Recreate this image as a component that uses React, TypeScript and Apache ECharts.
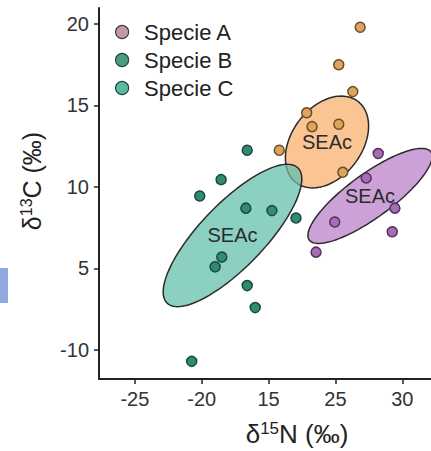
import React, { useEffect, useRef } from "react";
import * as echarts from "echarts";

// Tick labels (positions 0..4 on each axis)
const xTickLabels = ["-25", "-20", "15", "25", "30"];
const yTickLabels = ["-10", "5", "10", "15", "20"];
const tickPositions = [0, 1, 2, 3, 4];

// Points, in axis-position units (tick index)
const speciesA = [
  [3.64, 2.41], [3.46, 2.11], [3.89, 1.74], [2.99, 1.57], [3.85, 1.45], [2.71, 1.2],
];
const speciesB = [
  [1.68, 2.45], [1.29, 2.09], [0.97, 1.89], [1.66, 1.74], [2.05, 1.71], [2.41, 1.62],
  [1.3, 1.14], [1.2, 1.02], [1.68, 0.79], [1.8, 0.52], [0.85, -0.14],
];
const speciesC = [
  [3.37, 3.96], [3.05, 3.5], [3.26, 3.17], [2.57, 2.91], [2.65, 2.74], [3.05, 2.77],
  [2.16, 2.45], [3.11, 2.18],
];

// Standard ellipses: centre and two conjugate semi-axis vectors [cx, cy, ux, uy, vx, vy]
const ellipseA = [3.518, 1.89, 0.909, 0.541, 0.193, -0.218];
const ellipseB = [1.46, 1.405, 0.978, 0.83, 0.344, -0.273];
const ellipseC = [2.874, 2.552, 0.46, 0.5, 0.419, -0.259];

const seriesNames = ["Specie A", "Specie B", "Specie C"];

const FONT = "'Liberation Sans', Arial, Helvetica, sans-serif";

function ellipseSeries(name: string, e: number[], fill: string, z: number) {
  return {
    name,
    type: "custom",
    z,
    silent: true,
    data: [e],
    renderItem: (_params: any, api: any) => {
      const cx = api.value(0), cy = api.value(1);
      const ux = api.value(2), uy = api.value(3);
      const vx = api.value(4), vy = api.value(5);
      const pts: number[][] = [];
      const n = 120;
      for (let i = 0; i < n; i++) {
        const t = (2 * Math.PI * i) / n;
        pts.push(api.coord([cx + ux * Math.cos(t) + vx * Math.sin(t), cy + uy * Math.cos(t) + vy * Math.sin(t)]));
      }
      const c = api.coord([cx, cy]);
      return {
        type: "group",
        children: [
          { type: "polygon", shape: { points: pts }, style: { fill, stroke: "#2b2b2b", lineWidth: 1.5 } },
          {
            type: "text",
            x: c[0],
            y: c[1],
            style: {
              text: "SEAc",
              fill: "#2b2b2b",
              fontSize: 20,
              fontFamily: FONT,
              align: "center",
              verticalAlign: "middle",
            },
          },
        ],
      };
    },
  };
}

function scatterSeries(name: string, data: number[][], color: string, border: string) {
  return {
    name,
    type: "scatter",
    z: 10,
    symbol: "circle",
    symbolSize: 10,
    data,
    itemStyle: { color, borderColor: border, borderWidth: 1.5, opacity: 1 },
  };
}

export default function App() {
  const ref = useRef<HTMLDivElement>(null);
  useEffect(() => {
    if (!ref.current) return;
    const chart = echarts.init(ref.current, null, { renderer: "svg" });
    const axisLineStyle = { color: "#222", width: 2 };
    chart.setOption({
      animation: false,
      backgroundColor: "#fff",
      textStyle: { fontFamily: FONT },
      grid: { left: 99, right: 0, top: 8, bottom: 72, containLabel: false, outerBoundsMode: "none" },
      legend: {
        orient: "vertical",
        left: 110,
        top: 16,
        itemWidth: 34,
        itemHeight: 13,
        itemGap: 6,
        icon: "circle",
        selectedMode: false,
        textStyle: { fontSize: 22, color: "#222", fontFamily: FONT },
        data: [
          { name: seriesNames[0], itemStyle: { color: "#c39aab", borderColor: "#4a3a40", borderWidth: 1.2 } },
          { name: seriesNames[1], itemStyle: { color: "#4a9d83", borderColor: "#1f4a3e", borderWidth: 1.2 } },
          { name: seriesNames[2], itemStyle: { color: "#5cbaa2", borderColor: "#1f4a3e", borderWidth: 1.2 } },
        ],
      },
      xAxis: {
        type: "value",
        min: -0.537,
        max: 4.43,
        axisLine: { show: true, onZero: false, lineStyle: axisLineStyle },
        axisTick: { show: true, length: 5, customValues: tickPositions, lineStyle: { color: "#222", width: 1.5 } },
        axisLabel: {
          customValues: tickPositions,
          formatter: (v: number) => xTickLabels[Math.round(v)] ?? "",
          margin: 10,
          fontSize: 20,
          color: "#333",
          fontFamily: FONT,
        },
        splitLine: { show: false },
      },
      yAxis: {
        type: "value",
        min: -0.356,
        max: 4.196,
        axisLine: { show: true, onZero: false, lineStyle: axisLineStyle },
        axisTick: { show: true, length: 5, customValues: tickPositions, lineStyle: { color: "#222", width: 1.5 } },
        axisLabel: {
          customValues: tickPositions,
          formatter: (v: number) => yTickLabels[Math.round(v)] ?? "",
          margin: 10,
          fontSize: 20,
          color: "#333",
          fontFamily: FONT,
        },
        splitLine: { show: false },
      },
      graphic: [
        {
          type: "text",
          x: 297,
          y: 434,
          style: {
            text: "{d|δ}{s|15}{d|N (‰)}",
            align: "center",
            verticalAlign: "middle",
            fill: "#222",
            rich: {
              d: { fontSize: 26, fontFamily: FONT, fill: "#222", lineHeight: 29 },
              s: { fontSize: 17, fontFamily: FONT, fill: "#222", verticalAlign: "top" },
            },
          },
        },
        {
          type: "text",
          x: 32,
          y: 181,
          rotation: Math.PI / 2,
          style: {
            text: "{d|δ}{s|13}{d|C (‰)}",
            align: "center",
            verticalAlign: "middle",
            fill: "#222",
            rich: {
              d: { fontSize: 25, fontFamily: FONT, fill: "#222", lineHeight: 28 },
              s: { fontSize: 16, fontFamily: FONT, fill: "#222", verticalAlign: "top" },
            },
          },
        },
        { type: "rect", shape: { x: 0, y: 268, width: 8, height: 35 }, style: { fill: "#8fa9e0" } },
      ],
      series: [
        ellipseSeries("Specie A", ellipseA, "rgba(185,125,200,0.72)", 2),
        ellipseSeries("Specie C", ellipseC, "rgba(248,175,105,0.72)", 3),
        ellipseSeries("Specie B", ellipseB, "rgba(95,190,170,0.72)", 4),
        scatterSeries("Specie A", speciesA, "#a56db3", "#553060"),
        scatterSeries("Specie B", speciesB, "#2f8c74", "#1a4a3e"),
        scatterSeries("Specie C", speciesC, "#dfa35e", "#6b4e2a"),
      ],
    });
    return () => chart.dispose();
  }, []);
  return <div ref={ref} style={{ position: "fixed", left: 0, top: 0, width: 431, height: 451 }} />;
}
